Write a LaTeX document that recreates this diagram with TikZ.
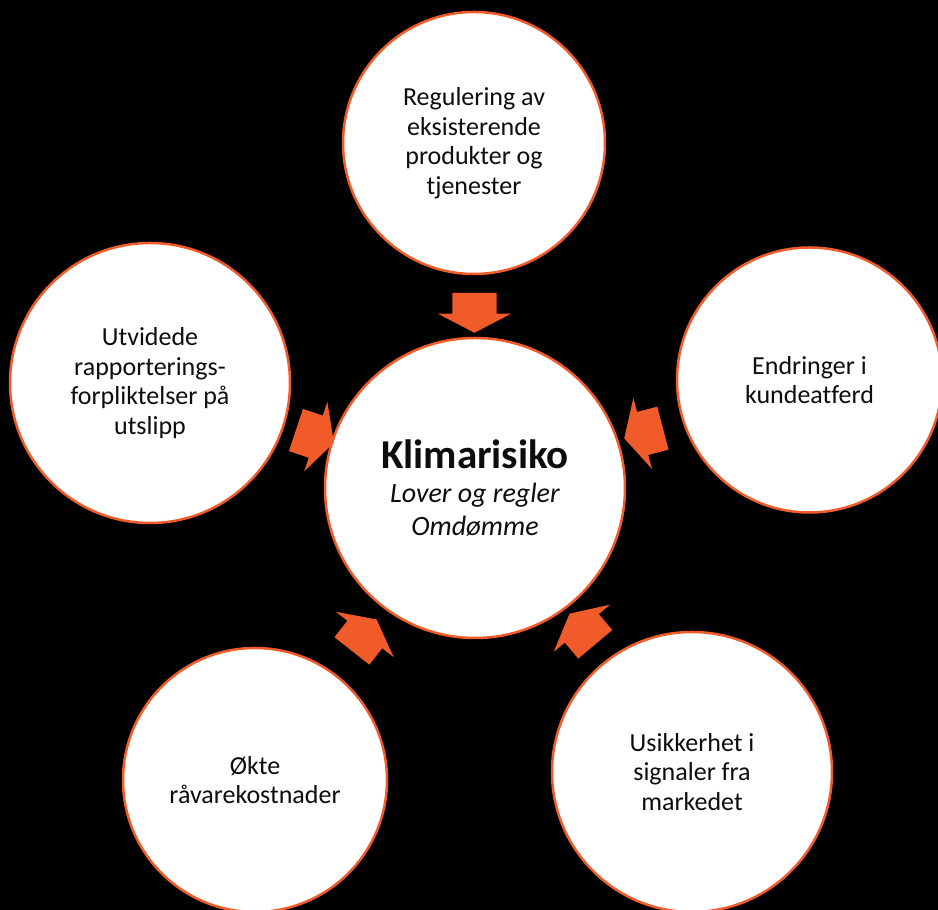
\documentclass[tikz,border=0pt]{standalone}
\usepackage{fontspec}
\setmainfont{Carlito}[Ligatures=NoCommon]
\usetikzlibrary{shapes.arrows,calc}
\definecolor{risikoorange}{RGB}{241,90,41}
\tikzset{
  boble/.style={circle, draw=risikoorange, line width=2.5pt, fill=white, align=center,
    inner sep=0pt, text=black!95, font=\fontsize{26}{29.5}\selectfont},
  pil/.style={single arrow, fill=risikoorange, draw=none, inner xsep=0pt, inner ysep=22pt,
    minimum height=40pt, minimum width=73pt, single arrow head extend=14.5pt,
    single arrow tip angle=125},
}
\begin{document}
\begin{tikzpicture}[x=1pt,y=1pt]
    \fill[black] (0,0) rectangle (938,910);
    \useasboundingbox (0,0) rectangle (938,910);
    % midten
    \node [boble, minimum size=300pt, font=\fontsize{28}{33.5}\selectfont] (klima) at (475,422)
        {{\fontsize{41}{36}\selectfont\bfseries Klimarisiko}\\\textit{Lover og regler}\\\textit{Omdømme}};
    % ytre sirkler
    \node [boble, minimum size=262pt] (regulering) at (474,767)
        {Regulering av\\eksisterende\\produkter og\\tjenester};
    \node [boble, minimum size=280pt] (rapport) at (150,527)
        {Utvidede\\rapporterings-\\forpliktelser på\\utslipp};
    \node [boble, minimum size=265pt] (kunde) at (809.5,530)
        {Endringer i\\kundeatferd};
    \node [boble, minimum size=264pt] (raavare) at (255,130)
        {Økte\\råvarekostnader};
    \node [boble, minimum size=280pt] (marked) at (692,138)
        {Usikkerhet i\\signaler fra\\markedet};
    % piler inn mot midten
    \node [pil, rotate=-90] (pilRegulering) at ($(klima)!181pt!(regulering)$) {};
    \node [pil, rotate=-18.4] (pilRapport) at ($(klima)!174pt!(rapport)$) {};
    \node [pil, rotate=-165.3] (pilKunde) at ($(klima)!183pt!(kunde)$) {};
    \node [pil, rotate=51.8] (pilRaavare) at ($(klima)!190pt!(raavare)$) {};
    \node [pil, rotate=130] (pilMarked) at ($(klima)!183pt!(marked)$) {};
\end{tikzpicture}
\end{document}
